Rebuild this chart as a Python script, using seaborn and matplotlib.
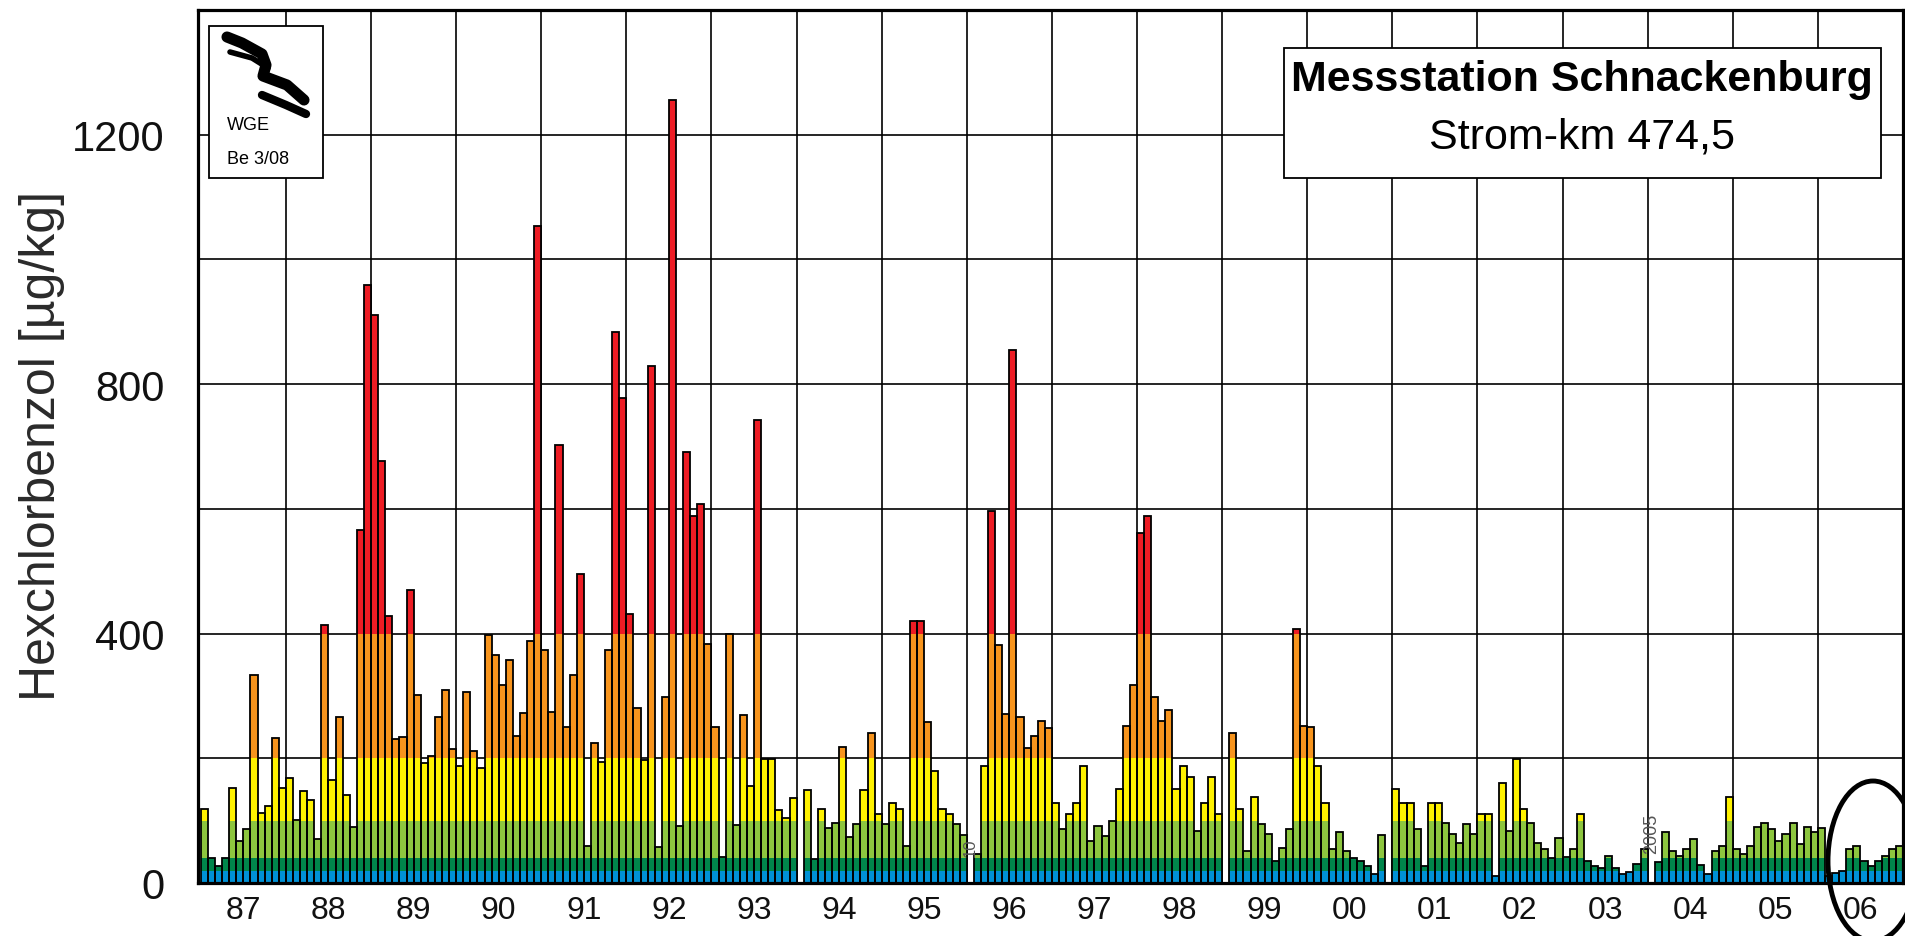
import numpy as np
import matplotlib
matplotlib.use('Agg')
import matplotlib.pyplot as plt
import seaborn as sns
from matplotlib.patches import Rectangle, Ellipse
from matplotlib.lines import Line2D

# Monatswerte Hexachlorbenzol [µg/kg] an der Messstation Schnackenburg (0 = kein Wert)
hcb_1987 = [118, 40, 28, 40, 153, 67, 87, 334, 113, 123, 232, 152]
hcb_1988 = [169, 101, 148, 133, 70, 414, 165, 266, 141, 90, 566, 959]
hcb_1989 = [911, 677, 428, 231, 234, 470, 302, 192, 203, 266, 309, 215]
hcb_1990 = [187, 306, 212, 184, 398, 365, 318, 357, 235, 272, 388, 1053]
hcb_1991 = [373, 274, 703, 250, 334, 495, 60, 224, 194, 373, 884, 778]
hcb_1992 = [431, 281, 198, 829, 58, 299, 1255, 92, 691, 588, 607, 384]
hcb_1993 = [250, 42, 400, 93, 270, 155, 742, 199, 199, 117, 105, 137]
hcb_1994 = [0, 149, 38, 118, 89, 96, 218, 74, 95, 149, 240, 110]
hcb_1995 = [95, 129, 118, 59, 420, 420, 258, 180, 118, 110, 94, 77]
hcb_1996 = [0, 47, 188, 597, 381, 271, 855, 267, 216, 236, 259, 248]
hcb_1997 = [129, 86, 111, 129, 188, 67, 91, 75, 99, 150, 251, 318]
hcb_1998 = [562, 588, 298, 259, 278, 150, 188, 170, 83, 129, 170, 111]
hcb_1999 = [0, 240, 119, 51, 138, 95, 79, 36, 56, 86, 407, 251]
hcb_2000 = [250, 188, 129, 55, 81, 51, 40, 35, 28, 15, 77, 0]
hcb_2001 = [150, 129, 129, 87, 28, 129, 129, 97, 79, 64, 95, 79]
hcb_2002 = [110, 110, 12, 161, 83, 199, 118, 97, 64, 55, 40, 72]
hcb_2003 = [42, 55, 110, 35, 28, 24, 43, 24, 14, 18, 31, 55]
hcb_2004 = [0, 34, 82, 51, 44, 55, 70, 29, 15, 51, 59, 138]
hcb_2005 = [55, 47, 59, 90, 97, 86, 67, 79, 97, 62, 90, 81]
hcb_2006 = [89, 12, 16, 19, 55, 60, 36, 27, 35, 43, 55, 59]

jahre = ['87', '88', '89', '90', '91', '92', '93', '94', '95', '96',
         '97', '98', '99', '00', '01', '02', '03', '04', '05', '06']

# Klassengrenzen und Farben (blau -> rot)
grenzen = [20, 40, 100, 200, 400]
farben = ['#0091d5', '#00864b', '#8dc63f', '#fff200', '#f7941d', '#ed1c24']

werte = np.array(hcb_1987 + hcb_1988 + hcb_1989 + hcb_1990 + hcb_1991 + hcb_1992
                 + hcb_1993 + hcb_1994 + hcb_1995 + hcb_1996 + hcb_1997 + hcb_1998
                 + hcb_1999 + hcb_2000 + hcb_2001 + hcb_2002 + hcb_2003 + hcb_2004
                 + hcb_2005 + hcb_2006, dtype=float)
monat = np.arange(len(werte))

sns.set_style('white')
plt.rcParams['font.family'] = ['Liberation Sans', 'DejaVu Sans']
plt.rcParams['text.color'] = 'black'

W, H = 1905, 937
fig = plt.figure(figsize=(W / 100, H / 100), dpi=100)
ax = fig.add_axes([198 / W, 1 - 884 / H, (1903 - 198) / W, (884 - 11) / H])


def fx(px):
    return px / W


def fy(py):
    return 1 - py / H


# farbige Schichten: erst ganze Säule rot, dann nach unten übermalen
for farbe, grenze in zip(farben[::-1], [np.inf] + grenzen[::-1]):
    sns.barplot(x=monat, y=np.minimum(werte, grenze), color=farbe, saturation=1,
                width=1, linewidth=0, errorbar=None, ax=ax, zorder=2)
# schwarze Umrandung
sns.barplot(x=monat, y=werte, color='black', fill=False, width=1, linewidth=1.3,
            errorbar=None, ax=ax, zorder=3)

ax.set_xlim(-0.9, len(werte) - 0.5)
ax.set_ylim(0, 1400)
ax.set_xticks([12 * i + 5.5 for i in range(len(jahre))])
ax.set_xticklabels(jahre)
ax.set_xticks([12 * i - 0.5 for i in range(1, len(jahre))], minor=True)
ax.tick_params(axis='x', which='both', length=0, labelsize=23, pad=9, colors='#111111')
ax.set_yticks(range(0, 1201, 200))
ax.set_yticklabels([str(v) if v % 400 == 0 else '' for v in range(0, 1201, 200)])
ax.tick_params(axis='y', length=15, width=1.5, labelsize=30, pad=9,
               direction='out', colors='#111111')
ax.set_xlabel('')
ax.set_ylabel('')
ax.grid(False)
ax.grid(True, which='minor', axis='x', color='black', lw=1.2)
ax.grid(True, which='major', axis='y', color='black', lw=1.2)
ax.set_axisbelow(True)
for s in ax.spines.values():
    s.set_visible(True)
    s.set_color('black')
    s.set_linewidth(2.3)

fig.text(fx(42), fy(446), 'Hexchlorbenzol [µg/kg]', rotation=90, ha='center',
         va='center', fontsize=36, color='#2a2a2a')

# kleine Vermerke
ax.text(108, 58, '10', rotation=90, ha='center', va='center', fontsize=12, color='#555555')
ax.text(204, 80, '2005', rotation=90, ha='center', va='center', fontsize=13, color='#555555')

# Titelkasten
fig.add_artist(Rectangle((fx(1284), fy(179)), fx(1881) - fx(1284), fy(49) - fy(179),
                         transform=fig.transFigure, facecolor='white',
                         edgecolor='black', lw=1.3, zorder=5))
fig.text(fx(1582), fy(80), 'Messstation Schnackenburg', ha='center', va='center',
         fontsize=31, fontweight='bold', color='black', zorder=6)
fig.text(fx(1582), fy(137), 'Strom-km 474,5', ha='center', va='center',
         fontsize=31, color='black', zorder=6)

# Logo-Kasten
fig.add_artist(Rectangle((fx(209), fy(179)), fx(323) - fx(209), fy(27) - fy(179),
                         transform=fig.transFigure, facecolor='white',
                         edgecolor='black', lw=1.3, zorder=5))
for pts, lw in [([(227, 38), (242, 44), (262, 55), (266, 66), (263, 77), (287, 86), (304, 101)], 8),
                ([(230, 53), (252, 59), (268, 69)], 4),
                ([(262, 96), (286, 106), (306, 115)], 6)]:
    xs = [fx(p[0]) for p in pts]
    ys = [fy(p[1]) for p in pts]
    fig.add_artist(Line2D(xs, ys, transform=fig.transFigure, color='black', lw=lw,
                          solid_capstyle='round', solid_joinstyle='round', zorder=6))
fig.text(fx(227), fy(126), 'WGE', ha='left', va='center', fontsize=13, color='black', zorder=6)
fig.text(fx(227), fy(159), 'Be 3/08', ha='left', va='center', fontsize=13, color='black', zorder=6)

# Markierung 2006
fig.add_artist(Ellipse((fx(1873), fy(862)), fx(90), 160 / H, transform=fig.transFigure,
                       fill=False, edgecolor='black', lw=3.5, clip_on=False, zorder=7))

fig.savefig('out.png', dpi=100, facecolor='white')
